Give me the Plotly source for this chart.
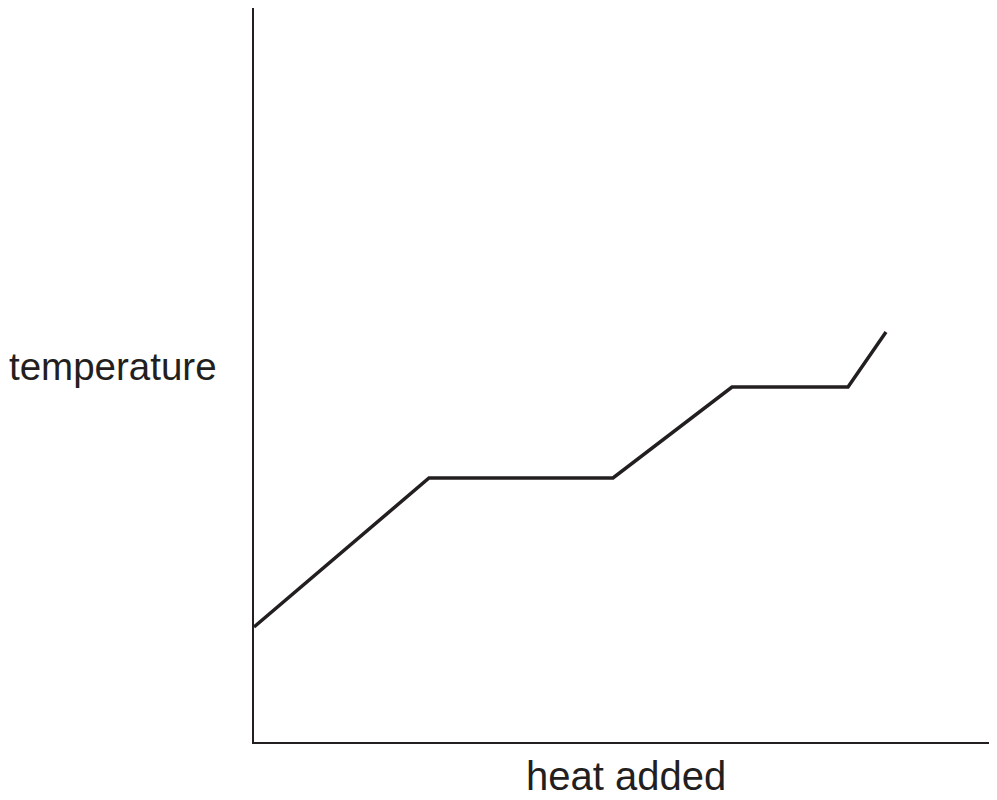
import plotly.graph_objects as go

# heating curve: temperature vs heat added (arbitrary units)
heat_added = [0, 175, 359, 478, 594, 632]
temperature = [115, 264, 264, 355, 355, 410]

ink = '#231f20'

fig = go.Figure(go.Scatter(
    x=heat_added,
    y=temperature,
    mode='lines',
    line=dict(color=ink, width=3.5),
    hoverinfo='skip',
))

fig.update_xaxes(range=[0, 743], showline=True, linecolor=ink, linewidth=2,
                 showgrid=False, zeroline=False, showticklabels=False, ticks='')
fig.update_yaxes(range=[0, 734], showline=True, linecolor=ink, linewidth=2,
                 showgrid=False, zeroline=False, showticklabels=False, ticks='')

fig.add_annotation(text='temperature', xref='paper', yref='paper',
                   x=0, y=0.511, xanchor='right', yanchor='middle', xshift=-35,
                   showarrow=False, font=dict(size=38.5, color=ink))
fig.add_annotation(text='heat added', xref='paper', yref='paper',
                   x=0.501, y=0, xanchor='center', yanchor='middle', yshift=-34,
                   showarrow=False, font=dict(size=40, color=ink))

# page has an 8px body margin, so the figure is sized to fill the rest
fig.update_layout(
    width=989, height=792,
    margin=dict(l=246, r=0, t=0, b=58),
    paper_bgcolor='white', plot_bgcolor='white',
    showlegend=False,
    font=dict(family='Liberation Sans, Arial, sans-serif'),
)

fig.write_html("out.html")
